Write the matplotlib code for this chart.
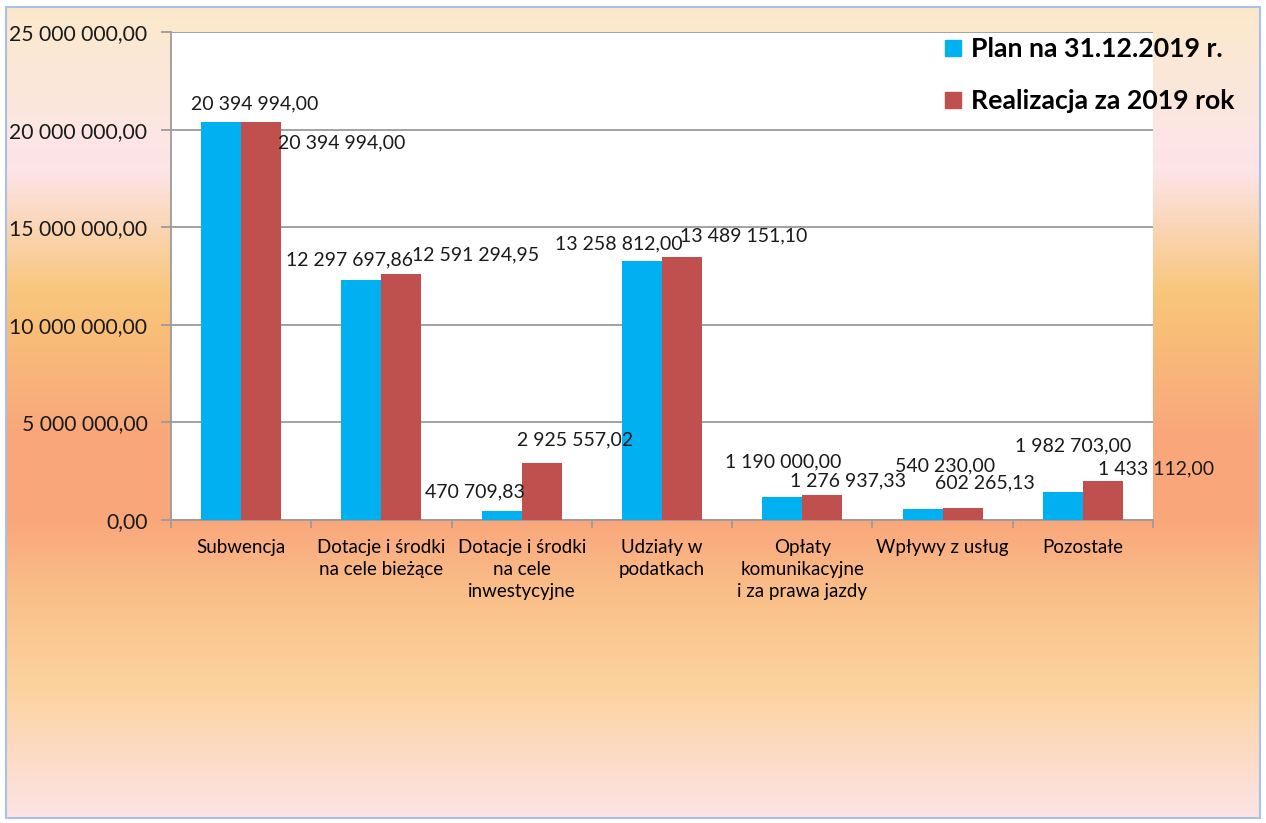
import numpy as np
import matplotlib
matplotlib.use("Agg")
import matplotlib.pyplot as plt
from matplotlib.patches import Rectangle
from matplotlib.lines import Line2D

plt.rcParams['font.family'] = ['Lato', 'DejaVu Sans']

# data
categories = ['Subwencja', 'Dotacje i środki\nna cele bieżące', 'Dotacje i środki\nna cele\ninwestycyjne',
              'Udziały w\npodatkach', 'Opłaty\nkomunikacyjne\ni za prawa jazdy', 'Wpływy z usług', 'Pozostałe']
plan = [20394994.00, 12297697.86, 470709.83, 13258812.00, 1190000.00, 540230.00, 1433112.00]
realizacja = [20394994.00, 12591294.95, 2925557.02, 13489151.10, 1276937.33, 602265.13, 1982703.00]
plan_labels = ['20 394 994,00', '12 297 697,86', '470 709,83', '13 258 812,00',
               '1 190 000,00', '540 230,00', '1 982 703,00']
real_labels = ['20 394 994,00', '12 591 294,95', '2 925 557,02', '13 489 151,10',
               '1 276 937,33', '602 265,13', '1 433 112,00']
series_names = ['Plan na 31.12.2019 r.', 'Realizacja za 2019 rok']

# label offsets in pixels (dx, dy), labels were moved by hand in the original
plan_off = [(34, 18), (-12, 20), (-27, 19), (-23, 17), (1, 35), (22, 44), (10, 46)]
real_off = [(81, -21), (74, 19), (33, 23), (62, 21), (26, 14), (22, 25), (53, 12)]

blue = '#00B0F0'
red = '#C0504D'
W, H = 1266, 823

fig = plt.figure(figsize=(W / 100, H / 100), dpi=100)
fig.patch.set_facecolor('white')

# gradient background
bg = fig.add_axes([6 / W, 5 / H, 1254 / W, 811 / H])
stops_y = [0, 0.15, 0.20, 0.35, 0.41, 0.52, 0.63, 0.73, 0.84, 0.93, 1.0]
stops_c = ['#FBE9CB', '#FCE6E2', '#FDE4E8', '#F8C67C', '#F8BC78', '#F9A87B', '#F9A67A',
           '#FAC08A', '#FCD39E', '#FCDCC8', '#FDE4E6']
rgb = np.array([matplotlib.colors.to_rgb(c) for c in stops_c])
yy = np.linspace(0, 1, 811)
grad = np.stack([np.interp(yy, stops_y, rgb[:, k]) for k in range(3)], axis=1)
grad = np.repeat(grad[:, None, :], 4, axis=1)
bg.imshow(grad, aspect='auto', extent=[0, 1, 0, 1], origin='upper')
bg.set_axis_off()
fig.patches.append(Rectangle((6 / W, 5 / H), 1254 / W, 811 / H, transform=fig.transFigure,
                             fill=False, edgecolor='#A9C1E8', linewidth=1.5))

ax = fig.add_axes([171 / W, 303 / H, 982 / W, 488 / H])
ax.set_facecolor('white')

x = np.arange(len(categories))
bw = 0.285
b1 = ax.bar(x - bw / 2, plan, width=bw, color=blue, zorder=3)
b2 = ax.bar(x + bw / 2, realizacja, width=bw, color=red, zorder=3)

for i in range(len(x)):
    ax.annotate(plan_labels[i], (x[i] - bw / 2, plan[i]), xytext=plan_off[i], textcoords='offset pixels',
                ha='center', va='center', fontsize=14, color='#1a1a1a', zorder=5)
    ax.annotate(real_labels[i], (x[i] + bw / 2, realizacja[i]), xytext=real_off[i], textcoords='offset pixels',
                ha='center', va='center', fontsize=14, color='#1a1a1a', zorder=5)

ax.set_xlim(-0.5, 6.5)
ax.set_ylim(0, 25000000)
ax.set_yticks(np.arange(0, 25000001, 5000000))
ax.set_yticklabels([f"{v:,.2f}".replace(',', ' ').replace('.', ',') for v in ax.get_yticks()], fontsize=15.2)
ax.grid(axis='y', color='#9B9B9B', linewidth=1.3, zorder=1)
ax.set_xticks(x)
ax.set_xticklabels(categories, fontsize=13.5, linespacing=1.35, va='top')
ax.set_xticks(np.arange(-0.5, 7, 1), minor=True)
ax.tick_params(axis='x', which='major', length=0, pad=14)
ax.tick_params(axis='x', which='minor', length=6, color='#9B9B9B', width=1.3)
ax.tick_params(axis='y', length=7, color='#9B9B9B', width=1.3, pad=10, labelcolor='#1a1a1a')
for s in ['top', 'right']:
    ax.spines[s].set_visible(False)
for s in ['left', 'bottom']:
    ax.spines[s].set_color('#9B9B9B')
    ax.spines[s].set_linewidth(1.3)

handles = [Line2D([], [], marker='s', linestyle='', markersize=11, color=blue),
           Line2D([], [], marker='s', linestyle='', markersize=11, color=red)]
fig.legend(handles, series_names, loc='upper left', bbox_to_anchor=(944 / W, 1 - 37 / H),
           frameon=False, prop={'weight': 'bold', 'size': 19.2}, handlelength=0.7,
           handletextpad=0.3, labelspacing=1.05, borderpad=0, borderaxespad=0)

fig.savefig('out.png', dpi=100)
